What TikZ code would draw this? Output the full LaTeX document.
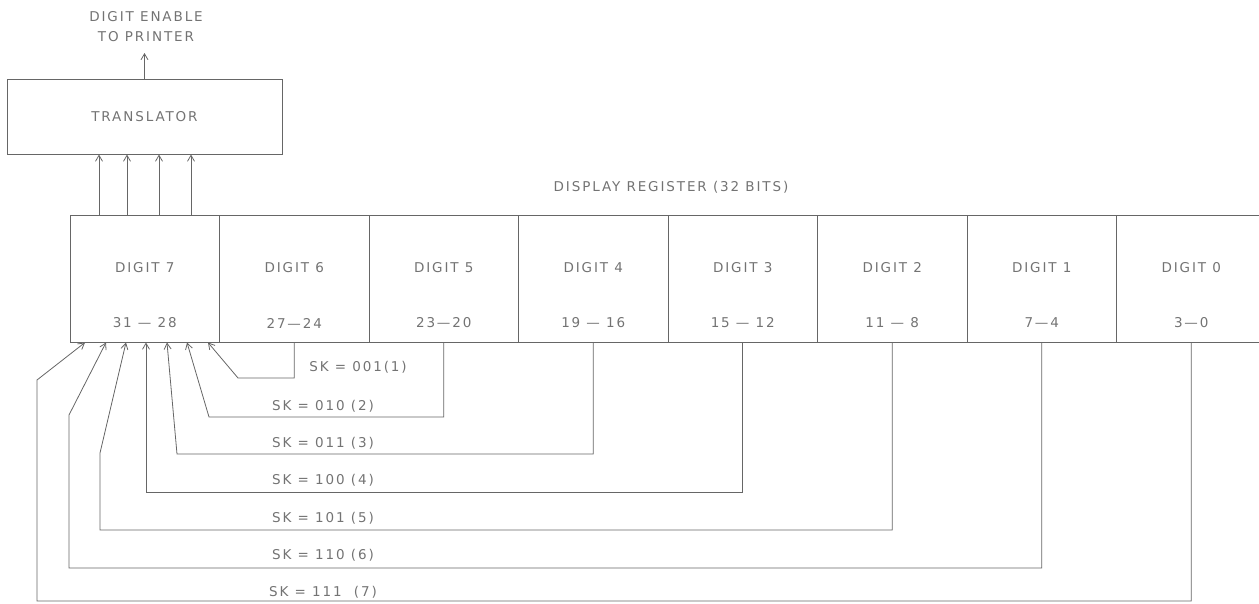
\documentclass[tikz,border=0pt]{standalone}
\usepackage{fontspec}
\setmainfont{DejaVu Sans}[LetterSpace=14]
\usepackage{tikz}
\usetikzlibrary{positioning,arrows.meta,calc}

\begin{document}
\begin{tikzpicture}[
    x=1pt, y=-1pt,
    lbl/.style={font=\fontsize{13.5}{20}\selectfont, text=black!55, inner sep=1pt},
    block/.style={draw=black!60, line width=1pt, minimum width=275pt, minimum height=75pt, inner sep=0pt, lbl},
    cell/.style={draw=black!60, line width=1pt, minimum width=149.5pt, minimum height=127pt, inner sep=0pt, outer sep=0pt},
    wire/.style={draw=black!60, line width=0.8pt},
    arr/.style={wire, -{Straight Barb[length=6pt, width=7pt]}}
]
\useasboundingbox (0,0) rectangle (1259,603);

% Translator and printer output
\node[block] (tr) at (144.5,116.5) {TRANSLATOR};
\node[lbl, align=center] (en) at (146,27) {DIGIT ENABLE\\TO PRINTER};
\coordinate (pr) at (144.5,53);
\draw[arr] (tr) -- (pr);

% Display register
\node[lbl] (title) at (671,187) {DISPLAY REGISTER (32 BITS)};
\node[cell, label={[lbl,yshift=11pt]center:DIGIT 7}, label={[lbl,yshift=-44pt]center:31 --- 28}] (d7) at (144.75,279) {};
\node[cell, right=0pt of d7, label={[lbl,yshift=11pt]center:DIGIT 6}, label={[lbl,yshift=-44pt]center:27---24}] (d6) {};
\node[cell, right=0pt of d6, label={[lbl,yshift=11pt]center:DIGIT 5}, label={[lbl,yshift=-44pt]center:23---20}] (d5) {};
\node[cell, right=0pt of d5, label={[lbl,yshift=11pt]center:DIGIT 4}, label={[lbl,yshift=-44pt]center:19 --- 16}] (d4) {};
\node[cell, right=0pt of d4, label={[lbl,yshift=11pt]center:DIGIT 3}, label={[lbl,yshift=-44pt]center:15 --- 12}] (d3) {};
\node[cell, right=0pt of d3, label={[lbl,yshift=11pt]center:DIGIT 2}, label={[lbl,yshift=-44pt]center:11 --- 8}] (d2) {};
\node[cell, right=0pt of d2, label={[lbl,yshift=11pt]center:DIGIT 1}, label={[lbl,yshift=-44pt]center:7---4}] (d1) {};
\node[cell, right=0pt of d1, label={[lbl,yshift=11pt]center:DIGIT 0}, label={[lbl,yshift=-44pt]center:3---0}] (d0) {};

% Digit 7 to translator
\draw[arr] ([xshift=29pt]d7.north west) -- ([xshift=29pt]d7.north west |- tr.south);
\draw[arr] ([xshift=57pt]d7.north west) -- ([xshift=57pt]d7.north west |- tr.south);
\draw[arr] ([xshift=89pt]d7.north west) -- ([xshift=89pt]d7.north west |- tr.south);
\draw[arr] ([xshift=121pt]d7.north west) -- ([xshift=121pt]d7.north west |- tr.south);

% Shift paths back into digit 7
\coordinate (b1) at (238,378);
\coordinate (b2) at (209,417);
\coordinate (b3) at (177,454);
\coordinate (b4) at (146,492);
\coordinate (b5) at (100,530);
\coordinate (b6) at (69,568);
\coordinate (b7) at (37,601);
\draw[arr] (d6.south) |- (b1) -- ([xshift=138pt]d7.south west);
\draw[arr] (d5.south) |- (b2) -- ([xshift=117pt]d7.south west);
\draw[arr] (d4.south) |- (b3) -- ([xshift=97pt]d7.south west);
\draw[arr] (d3.south) |- (b4) -- ([xshift=76pt]d7.south west);
\draw[arr] (d2.south) |- (b5) -- ++(0,-77) -- ([xshift=56pt]d7.south west);
\draw[arr] (d1.south) |- (b6) -- ++(0,-153) -- ([xshift=36pt]d7.south west);
\draw[arr] (d0.south) |- (b7) -- ++(0,-221) -- ([xshift=15pt]d7.south west);

% Shift count labels
\node[lbl] (sk1) at (358,367) {SK = 001(1)};
\node[lbl] (sk2) at (323,406) {SK = 010 (2)};
\node[lbl] (sk3) at (323,443) {SK = 011 (3)};
\node[lbl] (sk4) at (323,480) {SK = 100 (4)};
\node[lbl] (sk5) at (323,518) {SK = 101 (5)};
\node[lbl] (sk6) at (323,555) {SK = 110 (6)};
\node[lbl] (sk7) at (323,592) {SK = 111 \ (7)};
\end{tikzpicture}
\end{document}
